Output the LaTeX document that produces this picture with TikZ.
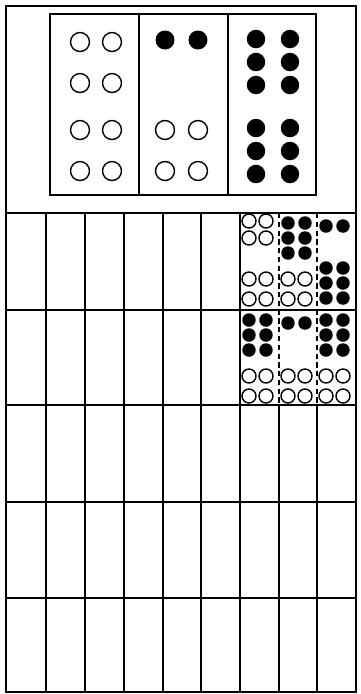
\documentclass[tikz,border=0pt]{standalone}
\usepackage{tikz}
\tikzset{
  frame/.style={draw=black,line width=0.9pt},
  rule/.style={draw=black,line width=0.8pt},
  split/.style={draw=black,line width=0.6pt,densely dashed},
  hole/.style={draw=black,line width=0.8pt,fill=white},
  bead/.style={fill=black},
}
\begin{document}
\begin{tikzpicture}[x=0.02cm,y=-0.02cm]
  \useasboundingbox (0,0) rectangle (360,694);

  % Outer border and the line under the top figure.
  \draw[frame] (6,6) rectangle (356,692);
  \draw[rule] (6,213) -- (356,213);

  % Top figure: three panels of holes and beads.
  \draw[frame] (50,14) rectangle (316,195);
  \foreach \x in {139,228}
    \draw[rule] (\x,14) -- (\x,195);

  \foreach \x in {80,112}
    \foreach \y in {42,83,130,171}
      \draw[hole] (\x,\y) circle[radius=0.19cm];
  \foreach \x in {165,198} {
    \fill[bead] (\x,40) circle[radius=0.19cm];
    \foreach \y in {130,171}
      \draw[hole] (\x,\y) circle[radius=0.19cm];
  }
  \foreach \x in {256,290}
    \foreach \y in {39,62,85,128,151,174}
      \fill[bead] (\x,\y) circle[radius=0.185cm];

  % Grid of cells below.
  \foreach \y in {310,405,502,598}
    \draw[rule] (6,\y) -- (356,\y);
  \foreach \x in {46,85,124,163,201,240}
    \draw[rule] (\x,213) -- (\x,692);
  \foreach \x in {279,317} {
    \draw[split] (\x,213) -- (\x,405);
    \draw[rule] (\x,405) -- (\x,692);
  }

  % Upper halves of the six marked cells.
  \foreach \dx in {9,26}
    \foreach \dy in {8,25}
      \draw[hole] (240+\dx,213+\dy) circle[radius=0.14cm];
  \foreach \cx/\cy in {279/213,240/310,317/310}
    \foreach \dx in {9,26}
      \foreach \dy in {10,25,40}
        \fill[bead] (\cx+\dx,\cy+\dy) circle[radius=0.135cm];
  \foreach \cx/\cy in {317/213,279/310}
    \foreach \dx in {9,26}
      \fill[bead] (\cx+\dx,\cy+13) circle[radius=0.135cm];

  % Lower halves.
  \foreach \cx/\cy in {240/213,279/213,240/310,279/310,317/310}
    \foreach \dx in {9,26}
      \foreach \dy in {66,86}
        \draw[hole] (\cx+\dx,\cy+\dy) circle[radius=0.14cm];
  \foreach \dx in {9,26}
    \foreach \dy in {55,70,85}
      \fill[bead] (317+\dx,213+\dy) circle[radius=0.135cm];
\end{tikzpicture}
\end{document}
